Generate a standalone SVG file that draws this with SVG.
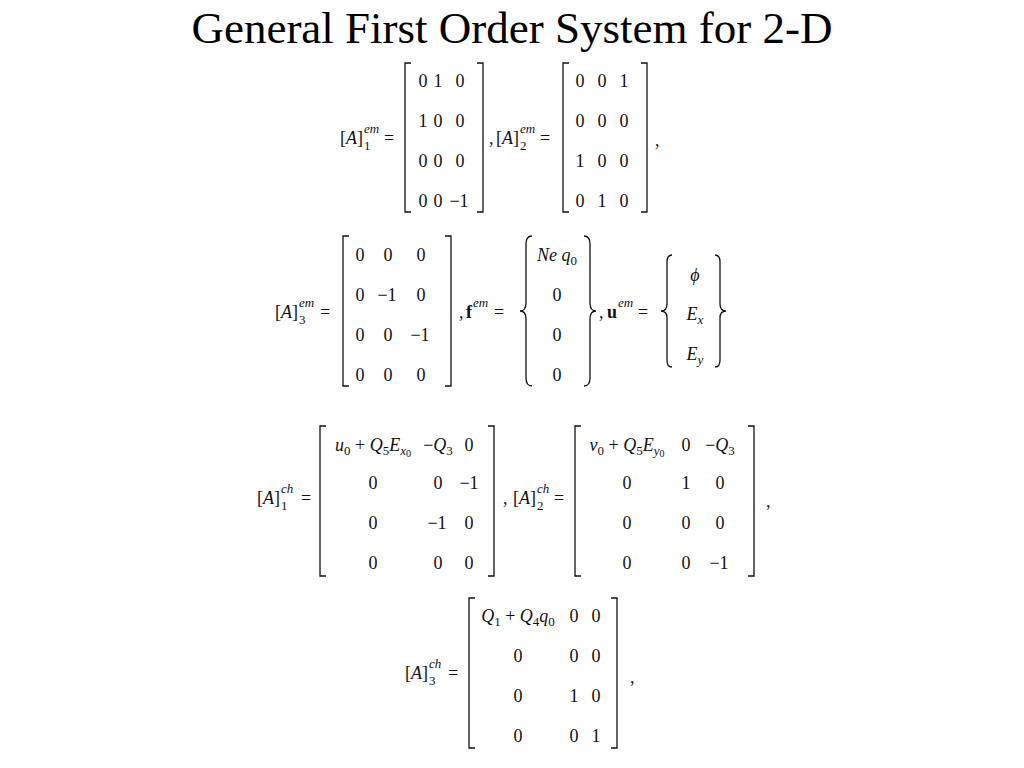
<svg xmlns="http://www.w3.org/2000/svg" width="1024" height="768" viewBox="0 0 1024 768">
<style>
.t{font-family:"Liberation Serif","DejaVu Serif",serif;font-size:18px;fill:#111}
.i{font-style:italic}
.s{font-size:13px}
.b{font-weight:bold}
.m{text-anchor:middle}
.br{fill:none;stroke:#111;stroke-width:1.3}
.title{font-family:"Liberation Serif","Times New Roman",serif;font-size:45px;fill:#000;text-anchor:middle}
</style>
<rect width="1024" height="768" fill="#fff"/>
<text class="title" x="512" y="43">General First Order System for 2-D</text>

<!-- Row 1 -->
<g id="A1em">
<text class="t" x="340" y="144">[<tspan class="i">A</tspan>]</text>
<text class="t s i" x="364" y="133">em</text>
<text class="t s" x="364" y="150">1</text>
<text class="t" x="384" y="144">=</text>
<path class="br" d="M411,63 H405 V212 H411"/>
<path class="br" d="M477,63 H483 V212 H477"/>
<g class="t m">
<text x="423" y="87">0</text><text x="438" y="87">1</text><text x="460" y="87">0</text>
<text x="423" y="127">1</text><text x="438" y="127">0</text><text x="460" y="127">0</text>
<text x="423" y="167">0</text><text x="438" y="167">0</text><text x="460" y="167">0</text>
<text x="423" y="207">0</text><text x="438" y="207">0</text><text x="459" y="207">−1</text>
</g>
</g>
<g id="A2em">
<text class="t" x="489" y="144">,</text>
<text class="t" x="496" y="144">[<tspan class="i">A</tspan>]</text>
<text class="t s i" x="520" y="133">em</text>
<text class="t s" x="520" y="150">2</text>
<text class="t" x="540" y="144">=</text>
<path class="br" d="M569,63 H563 V212 H569"/>
<path class="br" d="M641,63 H647 V212 H641"/>
<g class="t m">
<text x="580" y="87">0</text><text x="602" y="87">0</text><text x="624" y="87">1</text>
<text x="580" y="127">0</text><text x="602" y="127">0</text><text x="624" y="127">0</text>
<text x="580" y="167">1</text><text x="602" y="167">0</text><text x="624" y="167">0</text>
<text x="580" y="207">0</text><text x="602" y="207">1</text><text x="624" y="207">0</text>
</g>
<text class="t" x="655" y="146">,</text>
</g>

<!-- Row 2 -->
<g id="A3em">
<text class="t" x="275" y="318">[<tspan class="i">A</tspan>]</text>
<text class="t s i" x="299" y="307">em</text>
<text class="t s" x="299" y="324">3</text>
<text class="t" x="320" y="318">=</text>
<path class="br" d="M349,236 H343 V386 H349"/>
<path class="br" d="M445,236 H451 V386 H445"/>
<g class="t m">
<text x="360" y="261">0</text><text x="388" y="261">0</text><text x="421" y="261">0</text>
<text x="360" y="301">0</text><text x="387" y="301">−1</text><text x="421" y="301">0</text>
<text x="360" y="341">0</text><text x="388" y="341">0</text><text x="420" y="341">−1</text>
<text x="360" y="381">0</text><text x="388" y="381">0</text><text x="421" y="381">0</text>
</g>
</g>
<g id="fem">
<text class="t" x="459" y="318">,</text>
<text class="t b" x="466" y="318">f</text>
<text class="t s i" x="473" y="307">em</text>
<text class="t" x="494" y="318">=</text>
<path class="br" d="M532,236 Q526,236 526,244 L526,303 Q526,311 520,311 Q526,311 526,319 L526,378 Q526,386 532,386"/>
<path class="br" d="M584,236 Q590,236 590,244 L590,303 Q590,311 596,311 Q590,311 590,319 L590,378 Q590,386 584,386"/>
<g class="t m">
<text x="557" y="261"><tspan class="i">Ne q</tspan><tspan class="s" dy="4">0</tspan></text>
<text x="557" y="301">0</text>
<text x="557" y="341">0</text>
<text x="557" y="381">0</text>
</g>
</g>
<g id="uem">
<text class="t" x="599" y="318">,</text>
<text class="t b" x="607" y="318">u</text>
<text class="t s i" x="618" y="307">em</text>
<text class="t" x="638" y="318">=</text>
<path class="br" d="M672,255 Q667,255 667,262 L667,304 Q667,311 661,311 Q667,311 667,318 L667,360 Q667,367 672,367"/>
<path class="br" d="M715,255 Q720,255 720,262 L720,304 Q720,311 726,311 Q720,311 720,318 L720,360 Q720,367 715,367"/>
<g class="t m">
<text x="695" y="281" class="i">ϕ</text>
<text x="695" y="320"><tspan class="i">E</tspan><tspan class="s i" dy="4">x</tspan></text>
<text x="695" y="360"><tspan class="i">E</tspan><tspan class="s i" dy="4">y</tspan></text>
</g>
</g>

<!-- Row 3 -->
<g id="A1ch">
<text class="t" x="257" y="504">[<tspan class="i">A</tspan>]</text>
<text class="t s i" x="281" y="493">ch</text>
<text class="t s" x="281" y="510">1</text>
<text class="t" x="301" y="504">=</text>
<path class="br" d="M326,426 H320 V576 H326"/>
<path class="br" d="M488,426 H494 V576 H488"/>
<g class="t m">
<text x="373" y="451"><tspan class="i">u</tspan><tspan class="s" dy="4">0</tspan><tspan dy="-4"> + </tspan><tspan class="i">Q</tspan><tspan class="s" dy="4">5</tspan><tspan class="i" dy="-4">E</tspan><tspan class="s i" dy="4">x</tspan><tspan style="font-size:10px" dy="2">0</tspan></text>
<text x="438" y="451">−<tspan class="i">Q</tspan><tspan class="s" dy="4">3</tspan></text>
<text x="469" y="451">0</text>
<text x="373" y="489">0</text><text x="438" y="489">0</text><text x="469" y="489">−1</text>
<text x="373" y="529">0</text><text x="437" y="529">−1</text><text x="469" y="529">0</text>
<text x="373" y="569">0</text><text x="438" y="569">0</text><text x="469" y="569">0</text>
</g>
</g>
<g id="A2ch">
<text class="t" x="503" y="504">,</text>
<text class="t" x="513" y="504">[<tspan class="i">A</tspan>]</text>
<text class="t s i" x="537" y="493">ch</text>
<text class="t s" x="537" y="510">2</text>
<text class="t" x="554" y="504">=</text>
<path class="br" d="M581,426 H575 V576 H581"/>
<path class="br" d="M748,426 H754 V576 H748"/>
<g class="t m">
<text x="627" y="451"><tspan class="i">v</tspan><tspan class="s" dy="4">0</tspan><tspan dy="-4"> + </tspan><tspan class="i">Q</tspan><tspan class="s" dy="4">5</tspan><tspan class="i" dy="-4">E</tspan><tspan class="s i" dy="4">y</tspan><tspan style="font-size:10px" dy="2">0</tspan></text>
<text x="686" y="451">0</text>
<text x="720" y="451">−<tspan class="i">Q</tspan><tspan class="s" dy="4">3</tspan></text>
<text x="627" y="489">0</text><text x="686" y="489">1</text><text x="720" y="489">0</text>
<text x="627" y="529">0</text><text x="686" y="529">0</text><text x="720" y="529">0</text>
<text x="627" y="569">0</text><text x="686" y="569">0</text><text x="719" y="569">−1</text>
</g>
<text class="t" x="766" y="507">,</text>
</g>

<!-- Row 4 -->
<g id="A3ch">
<text class="t" x="405" y="679">[<tspan class="i">A</tspan>]</text>
<text class="t s i" x="429" y="668">ch</text>
<text class="t s" x="429" y="685">3</text>
<text class="t" x="448" y="679">=</text>
<path class="br" d="M475,598 H469 V748 H475"/>
<path class="br" d="M611,598 H617 V748 H611"/>
<g class="t m">
<text x="518" y="622"><tspan class="i">Q</tspan><tspan class="s" dy="4">1</tspan><tspan dy="-4"> + </tspan><tspan class="i">Q</tspan><tspan class="s" dy="4">4</tspan><tspan class="i" dy="-4">q</tspan><tspan class="s" dy="4">0</tspan></text>
<text x="574" y="622">0</text><text x="596" y="622">0</text>
<text x="518" y="662">0</text><text x="574" y="662">0</text><text x="596" y="662">0</text>
<text x="518" y="702">0</text><text x="574" y="702">1</text><text x="596" y="702">0</text>
<text x="518" y="742">0</text><text x="574" y="742">0</text><text x="596" y="742">1</text>
</g>
<text class="t" x="630" y="683">,</text>
</g>
</svg>
